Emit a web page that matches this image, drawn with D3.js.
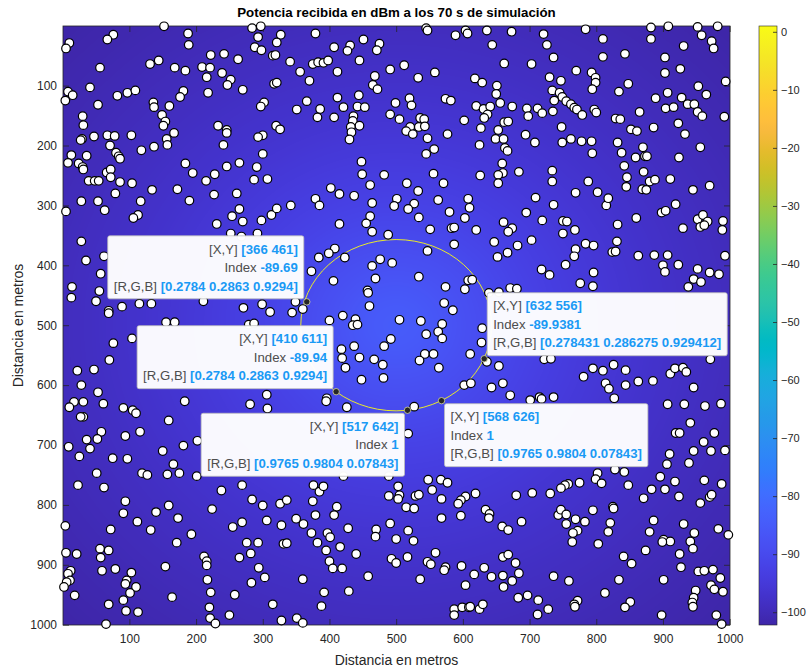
<!DOCTYPE html>
<html>
<head>
<meta charset="utf-8">
<script src="https://cdn.jsdelivr.net/npm/d3@7"></script>
<style>
  html, body { margin: 0; padding: 0; background: #ffffff; }
  svg { display: block; font-family: "Liberation Sans", Arial, Helvetica, sans-serif; }
</style>
</head>
<body>
<svg id="chart" width="807" height="670"></svg>
<script>
// ---- Data -------------------------------------------------------------
const xTicks = [100, 200, 300, 400, 500, 600, 700, 800, 900, 1000];
const yTicks = [100, 200, 300, 400, 500, 600, 700, 800, 900, 1000];
const colorbarTicks = [0, -10, -20, -30, -40, -50, -60, -70, -80, -90, -100];

// Transmitter at the centre of the 1000 x 1000 m area and its coverage ring
const transmitter = [500, 500];
const coverageRadius = 143;
// Received power (dBm) = refPower - 20*log10(sqrt(r^2 + antennaHeight^2))
const refPowerDbm = -45.13;
const antennaHeight = 97.7;
const colorLimits = [-102.2, 1];

// Users, upper band (y < 330 m)
const usersTop = [
  [152,1],[10,29],[5,38],[76,15],[67,23],[188,13],[189,32],[56,70],[131,64],[144,58],[168,70],[184,75],
  [209,69],[221,70],[222,49],[242,47],[263,56],[284,4],[297,1],[293,19],[288,36],[298,41],[327,15],[321,28],
  [315,50],[319,49],[216,86],[239,79],[252,90],[247,99],[270,107],[218,112],[181,109],[176,119],[8,110],[15,116],
  [4,125],[41,103],[82,117],[97,112],[109,108],[53,132],[136,128],[137,136],[160,134],[30,151],[31,166],[149,149],
  [154,160],[151,167],[167,179],[156,189],[157,199],[317,97],[321,95],[302,128],[297,135],[233,167],[246,174],[246,179],
  [320,167],[326,173],[300,183],[293,186],[241,199],[29,189],[27,191],[47,185],[67,183],[78,184],[103,183],[71,200],
  [137,202],[118,208],[13,216],[8,229],[36,217],[24,230],[30,236],[31,240],[80,212],[84,218],[86,222],[184,230],
  [195,246],[228,248],[215,259],[246,235],[265,229],[291,236],[300,214],[287,257],[307,256],[66,245],[72,240],[72,253],
  [39,259],[48,259],[54,259],[86,261],[104,263],[79,280],[134,274],[172,273],[190,292],[227,282],[261,280],[28,293],
  [53,293],[63,308],[117,293],[5,310],[113,316],[106,321],[265,306],[254,318],[270,327],[231,331],[298,325],[313,316],
  [321,305],
  [379,13],[407,36],[431,33],[427,42],[451,23],[475,30],[471,41],[545,4],[547,8],[589,16],[604,8],[607,13],
  [636,8],[644,32],[662,63],[341,60],[356,77],[370,92],[375,64],[383,61],[391,62],[398,58],[412,77],[445,58],
  [468,84],[465,99],[472,106],[491,73],[512,66],[533,87],[558,78],[618,88],[629,95],[651,100],[650,114],[656,129],
  [366,126],[351,140],[386,139],[382,153],[412,120],[421,136],[407,153],[444,116],[442,135],[453,136],[436,151],[435,159],
  [445,167],[432,169],[433,178],[430,190],[499,129],[520,121],[523,133],[491,148],[505,156],[536,154],[542,156],[521,169],
  [534,169],[543,168],[515,176],[525,181],[574,122],[582,125],[547,188],[577,181],[602,158],[620,134],[631,139],[641,135],
  [637,148],[632,154],[627,171],[653,174],[662,161],[649,189],[661,189],[625,199],[663,204],[667,209],[557,206],[545,214],
  [448,227],[449,248],[482,249],[461,266],[402,271],[415,281],[437,284],[379,289],[385,300],[342,300],[464,296],[461,318],
  [455,330],[415,331],[516,263],[533,276],[556,247],[571,263],[501,289],[497,301],[527,297],[518,306],[534,320],[563,291],
  [580,311],[608,289],[610,304],[603,321],[626,250],[659,230],[660,246],[653,249],[653,263],[661,328],
  [673,10],[721,14],[726,32],[784,6],[810,22],[882,3],[882,22],[908,1],[952,2],[958,16],[982,1],[973,26],
  [976,38],[931,34],[903,53],[926,72],[903,79],[994,93],[843,47],[810,52],[736,53],[703,64],[770,75],[793,78],
  [730,86],[747,92],[799,87],[799,95],[794,106],[848,97],[834,110],[734,108],[745,112],[749,119],[737,125],[755,126],
  [762,131],[767,137],[771,140],[779,149],[797,140],[800,145],[674,135],[696,138],[698,151],[712,138],[719,146],[735,143],
  [668,160],[829,155],[836,156],[865,144],[889,121],[907,112],[904,138],[916,136],[928,120],[937,131],[947,131],[953,101],
  [965,115],[952,144],[959,151],[992,152],[923,163],[933,181],[886,170],[852,173],[861,176],[748,169],[694,182],[708,195],
  [749,195],[762,189],[778,193],[793,193],[794,213],[832,195],[838,212],[859,220],[870,203],[873,218],[876,218],[842,234],
  [871,244],[846,253],[845,269],[869,273],[875,274],[880,260],[888,257],[911,256],[924,220],[956,203],[945,274],[970,267],
  [919,298],[898,312],[904,309],[860,321],[815,300],[818,288],[802,278],[788,260],[769,279],[734,242],[734,260],[684,244],
  [709,287],[736,299],[695,312],[719,325],[750,326],[756,327],[952,323],[960,316],[967,327],[990,326]
];

// Users, middle band (330 m to 665 m)
const usersMiddle = [
  [252,347],[268,352],[292,347],[28,360],[35,392],[62,385],[57,414],[14,436],[13,454],[55,443],[50,460],[69,476],
  [69,480],[89,469],[115,464],[133,464],[211,460],[271,471],[299,465],[311,478],[155,495],[168,495],[279,499],[287,497],
  [104,522],[76,530],[70,558],[47,574],[22,576],[28,600],[53,612],[183,627],[306,616],[281,632],[307,639],[17,628],
  [10,637],[31,628],[61,631],[91,638],[105,642],[110,647],[31,653],[27,653],[159,659],
  [464,344],[488,349],[551,340],[583,338],[587,337],[620,341],[587,365],[547,376],[647,361],[652,386],[408,372],[399,380],
  [384,387],[423,387],[373,410],[476,390],[464,401],[494,396],[469,422],[406,426],[534,419],[574,436],[608,425],[614,424],
  [603,440],[457,442],[458,446],[460,468],[572,463],[585,475],[639,446],[654,445],[349,461],[360,473],[344,479],[400,492],
  [420,484],[439,490],[435,500],[442,499],[505,491],[537,493],[569,498],[563,511],[569,522],[545,515],[492,523],[482,535],
  [629,505],[628,529],[418,540],[437,535],[419,555],[445,554],[424,571],[467,557],[480,566],[543,548],[556,548],[535,559],
  [564,571],[611,548],[636,561],[654,568],[643,604],[660,597],[448,591],[481,588],[602,600],[612,597],[396,622],[395,627],
  [426,637],[527,636],
  [674,338],[668,344],[768,341],[750,347],[832,332],[930,338],[956,336],[962,333],[989,341],[703,358],[682,367],[667,379],
  [769,373],[767,385],[784,364],[796,367],[831,360],[824,378],[829,377],[863,384],[887,383],[907,383],[923,399],[900,400],
  [903,411],[993,384],[952,406],[970,412],[984,415],[946,423],[957,428],[938,436],[754,399],[718,407],[730,416],[796,412],
  [776,430],[795,435],[671,438],[681,439],[722,557],[732,556],[971,557],[795,572],[810,576],[781,586],[826,566],[844,575],
  [814,597],[819,606],[844,600],[863,594],[885,593],[911,581],[918,572],[930,571],[935,578],[946,604],[827,622],[907,632],
  [932,632],[963,635],[987,631],[941,663],[671,617],[701,625],[715,620],[718,623],[736,620]
];

// Users, lower band (y > 665 m)
const usersBottom = [
  [58,678],[52,690],[36,691],[94,685],[116,678],[9,703],[41,706],[25,719],[75,722],[97,723],[150,710],[181,701],
  [202,693],[166,732],[119,747],[127,750],[157,749],[175,747],[201,752],[51,747],[23,767],[62,771],[238,776],[269,767],
  [284,791],[300,801],[326,798],[336,792],[94,794],[91,814],[159,801],[140,812],[112,828],[173,822],[132,842],[72,841],
  [4,835],[224,807],[193,849],[171,863],[255,837],[269,829],[306,826],[328,834],[276,863],[293,863],[282,881],[265,888],
  [331,865],[5,880],[21,882],[56,873],[69,876],[57,888],[212,886],[216,894],[216,901],[154,903],[59,910],[79,907],
  [103,913],[12,910],[8,915],[11,926],[6,929],[2,937],[96,926],[94,932],[110,937],[101,947],[217,925],[18,951],
  [91,959],[164,954],[222,946],[258,950],[294,905],[303,921],[283,930],[69,966],[95,977],[113,979],[220,971],[221,989],
  [229,998],[250,984],[65,999],[315,966],[328,993],
  [518,681],[421,752],[489,752],[376,767],[385,778],[391,769],[503,769],[505,784],[503,790],[489,785],[548,758],[554,775],
  [567,758],[577,763],[529,785],[534,783],[568,790],[619,781],[604,786],[597,792],[593,798],[375,794],[411,803],[407,817],
  [379,817],[350,823],[361,832],[515,804],[527,806],[568,822],[597,818],[634,808],[640,815],[639,822],[491,831],[470,841],
  [469,853],[428,839],[397,847],[401,854],[373,847],[382,863],[336,864],[416,870],[395,876],[518,843],[526,860],[500,857],
  [440,882],[400,894],[405,906],[419,906],[493,890],[500,897],[517,887],[559,880],[547,895],[552,899],[574,904],[572,909],
  [598,902],[617,916],[632,905],[643,920],[659,836],[660,887],[660,918],[661,937],[604,934],[536,924],[458,919],[360,924],
  [429,944],[392,946],[388,969],[587,974],[587,984],[599,971],[609,971],[611,970],[625,974],[630,966],[351,989],[360,997],
  [919,680],[925,680],[977,680],[961,695],[946,710],[972,710],[993,709],[910,715],[906,732],[939,730],[828,741],[842,745],
  [802,747],[799,757],[808,764],[848,767],[896,753],[883,774],[903,774],[918,761],[962,759],[988,765],[871,789],[924,786],
  [956,797],[970,787],[973,783],[775,763],[758,765],[753,767],[747,772],[731,781],[704,780],[680,784],[825,803],[826,806],
  [795,809],[743,817],[747,808],[755,816],[769,824],[783,828],[755,832],[772,843],[765,847],[764,862],[688,828],[668,842],
  [821,830],[818,845],[803,865],[886,826],[880,845],[901,858],[911,861],[899,862],[931,832],[947,847],[941,861],[945,873],
  [925,882],[874,876],[983,840],[998,850],[841,886],[853,898],[927,904],[953,911],[962,910],[975,908],[986,922],[972,934],
  [977,941],[990,945],[901,925],[834,925],[813,947],[759,927],[736,919],[668,883],[679,897],[684,914],[674,927],[697,951],
  [683,955],[713,959],[728,974],[712,983],[772,960],[767,966],[768,970],[851,962],[843,971],[898,984],[949,943],[946,955],
  [944,963],[945,970],[980,984],[988,999]
];

// Data tips
const tipX = [366, 410, 632, 517, 568];
const tipY = [461, 611, 556, 642, 626];
const tipIndex = ["-89.69", "-89.94", "-89.9381", "1", "1"];
const tipRGB = ["0.2784 0.2863 0.9294", "0.2784 0.2863 0.9294", "0.278431 0.286275 0.929412",
                "0.9765 0.9804 0.07843", "0.9765 0.9804 0.07843"];
const tipSide = ["nw", "nw", "ne", "sw", "se"];

// parula(64)
const parula = [
  [0.2422,0.1504,0.6603],[0.2504,0.1650,0.7076],[0.2578,0.1818,0.7511],[0.2647,0.1978,0.7952],
  [0.2706,0.2147,0.8364],[0.2751,0.2342,0.8710],[0.2783,0.2559,0.8991],[0.2803,0.2782,0.9221],
  [0.2813,0.3006,0.9414],[0.2810,0.3228,0.9579],[0.2795,0.3447,0.9717],[0.2760,0.3667,0.9829],
  [0.2699,0.3892,0.9906],[0.2602,0.4123,0.9952],[0.2440,0.4358,0.9988],[0.2206,0.4603,0.9973],
  [0.1963,0.4847,0.9892],[0.1834,0.5074,0.9798],[0.1786,0.5289,0.9682],[0.1764,0.5499,0.9520],
  [0.1687,0.5703,0.9359],[0.1540,0.5902,0.9218],[0.1460,0.6091,0.9079],[0.1380,0.6276,0.8973],
  [0.1248,0.6459,0.8883],[0.1113,0.6635,0.8763],[0.0952,0.6798,0.8598],[0.0689,0.6948,0.8394],
  [0.0297,0.7082,0.8163],[0.0036,0.7203,0.7917],[0.0067,0.7312,0.7660],[0.0433,0.7411,0.7394],
  [0.0964,0.7500,0.7120],[0.1408,0.7584,0.6842],[0.1717,0.7670,0.6554],[0.1938,0.7758,0.6251],
  [0.2161,0.7843,0.5923],[0.2470,0.7918,0.5567],[0.2906,0.7973,0.5188],[0.3406,0.8008,0.4789],
  [0.3909,0.8029,0.4354],[0.4456,0.8024,0.3909],[0.5044,0.7993,0.3480],[0.5616,0.7942,0.3045],
  [0.6174,0.7876,0.2612],[0.6720,0.7793,0.2227],[0.7242,0.7698,0.1910],[0.7738,0.7598,0.1646],
  [0.8203,0.7498,0.1535],[0.8634,0.7406,0.1596],[0.9035,0.7330,0.1774],[0.9393,0.7288,0.2100],
  [0.9728,0.7298,0.2394],[0.9956,0.7434,0.2371],[0.9970,0.7659,0.2199],[0.9952,0.7893,0.2028],
  [0.9892,0.8136,0.1885],[0.9786,0.8386,0.1766],[0.9676,0.8639,0.1643],[0.9610,0.8890,0.1537],
  [0.9597,0.9135,0.1423],[0.9628,0.9373,0.1265],[0.9691,0.9606,0.1064],[0.9769,0.9839,0.0805]
];

// ---- Layout -------------------------------------------------------------
const plot = { left: 63, right: 730, top: 26, bottom: 625 };
const cbar = { left: 759, right: 777 };
const svg = d3.select("#chart");

const x = d3.scaleLinear().domain([0.5, 1000.5]).range([plot.left, plot.right]);
const y = d3.scaleLinear().domain([0.5, 1000.5]).range([plot.top, plot.bottom]);
const cy = d3.scaleLinear().domain(colorLimits).range([plot.bottom, plot.top]);

const parulaHex = parula.map(c => d3.rgb(c[0] * 255, c[1] * 255, c[2] * 255).formatHex());
const color = d3.scaleLinear()
  .domain(parula.map((_, i) => colorLimits[0] + i / (parula.length - 1) * (colorLimits[1] - colorLimits[0])))
  .range(parulaHex)
  .clamp(true);

function powerAt(px, py) {
  const r = Math.hypot(px - transmitter[0], py - transmitter[1]);
  return refPowerDbm - 20 * Math.log10(Math.hypot(r, antennaHeight));
}

// ---- Received power field -------------------------------------------------
const fw = plot.right - plot.left, fh = plot.bottom - plot.top;
const canvas = document.createElement("canvas");
canvas.width = fw; canvas.height = fh;
const ctx = canvas.getContext("2d");
const img = ctx.createImageData(fw, fh);
const lut = d3.range(1024).map(i => d3.rgb(color(colorLimits[0] + i / 1023 * (colorLimits[1] - colorLimits[0]))));
for (let j = 0; j < fh; j++) {
  const py = y.invert(plot.top + j + 0.5);
  for (let i = 0; i < fw; i++) {
    const px = x.invert(plot.left + i + 0.5);
    const v = powerAt(px, py);
    let t = (v - colorLimits[0]) / (colorLimits[1] - colorLimits[0]);
    t = Math.max(0, Math.min(1, t));
    const c = lut[Math.round(t * 1023)];
    const k = (j * fw + i) * 4;
    img.data[k] = c.r; img.data[k + 1] = c.g; img.data[k + 2] = c.b; img.data[k + 3] = 255;
  }
}
ctx.putImageData(img, 0, 0);
svg.append("image")
  .attr("x", plot.left).attr("y", plot.top)
  .attr("width", fw).attr("height", fh)
  .attr("preserveAspectRatio", "none")
  .attr("href", canvas.toDataURL());

// Coverage ring
svg.append("ellipse")
  .attr("cx", x(transmitter[0])).attr("cy", y(transmitter[1]))
  .attr("rx", x(transmitter[0] + coverageRadius) - x(transmitter[0]))
  .attr("ry", y(transmitter[1] + coverageRadius) - y(transmitter[1]))
  .attr("fill", "none")
  .attr("stroke", color(colorLimits[1]))
  .attr("stroke-opacity", 0.9)
  .attr("stroke-width", 1);

// ---- Axes ------------------------------------------------------------------
const axisColor = "#262626";
const tickLen = 6;
const fmt = d3.format("d");
const axes = svg.append("g");
axes.append("rect")
  .attr("x", plot.left).attr("y", plot.top)
  .attr("width", fw).attr("height", fh)
  .attr("fill", "none").attr("stroke", axisColor).attr("stroke-width", 0.8);

function styleAxis(g, size) {
  g.select(".domain").remove();
  g.selectAll(".tick line").attr("stroke", axisColor).attr("stroke-width", 0.8);
  g.selectAll(".tick text").attr("fill", axisColor).attr("font-size", size || 12)
    .attr("font-family", "Liberation Sans, Arial, sans-serif");
}
axes.append("g").attr("transform", `translate(0,${plot.bottom})`)
  .call(d3.axisBottom(x).tickValues(xTicks).tickFormat(fmt).tickSizeInner(-tickLen).tickSizeOuter(0).tickPadding(9))
  .call(styleAxis);
axes.append("g").attr("transform", `translate(0,${plot.top})`)
  .call(d3.axisTop(x).tickValues(xTicks).tickSizeInner(-tickLen).tickSizeOuter(0).tickFormat(""))
  .call(styleAxis);
axes.append("g").attr("transform", `translate(${plot.left},0)`)
  .call(d3.axisLeft(y).tickValues(yTicks).tickFormat(fmt).tickSizeInner(-tickLen).tickSizeOuter(0).tickPadding(6))
  .call(styleAxis);
axes.append("g").attr("transform", `translate(${plot.right},0)`)
  .call(d3.axisRight(y).tickValues(yTicks).tickSizeInner(-tickLen).tickSizeOuter(0).tickFormat(""))
  .call(styleAxis);

// ---- Users ----------------------------------------------------------------
const users = usersTop.concat(usersMiddle, usersBottom);
svg.append("g").selectAll("circle")
  .data(users)
  .join("circle")
  .attr("cx", d => x(d[0]))
  .attr("cy", d => y(d[1]))
  .attr("r", 4.3)
  .attr("fill", "#ffffff")
  .attr("stroke", "#000000")
  .attr("stroke-width", 1.2);

// ---- Titles ----------------------------------------------------------------
svg.append("text")
  .attr("x", (plot.left + plot.right) / 2).attr("y", 17)
  .attr("text-anchor", "middle").attr("font-size", 13.3).attr("font-weight", "bold")
  .attr("fill", "#000").text("Potencia recibida en dBm a los 70 s de simulación");
svg.append("text")
  .attr("x", (plot.left + plot.right) / 2).attr("y", 665)
  .attr("text-anchor", "middle").attr("font-size", 14).attr("fill", axisColor)
  .text("Distancia en metros");
svg.append("text")
  .attr("transform", `translate(23,${(plot.top + plot.bottom) / 2}) rotate(-90)`)
  .attr("text-anchor", "middle").attr("font-size", 14).attr("fill", axisColor)
  .text("Distancia en metros");

// ---- Colorbar --------------------------------------------------------------
const grad = svg.append("defs").append("linearGradient")
  .attr("id", "parulaGrad").attr("x1", 0).attr("y1", 1).attr("x2", 0).attr("y2", 0);
grad.selectAll("stop").data(parulaHex).join("stop")
  .attr("offset", (_, i) => i / (parulaHex.length - 1))
  .attr("stop-color", d => d);
svg.append("rect")
  .attr("x", cbar.left).attr("y", plot.top)
  .attr("width", cbar.right - cbar.left).attr("height", fh)
  .attr("fill", "url(#parulaGrad)")
  .attr("stroke", axisColor).attr("stroke-width", 0.6);
svg.append("g").attr("transform", `translate(${cbar.right},0)`)
  .call(d3.axisRight(cy).tickValues(colorbarTicks).tickFormat(fmt).tickSizeInner(-4).tickSizeOuter(0).tickPadding(4))
  .call(g => styleAxis(g, 11));

// ---- Data tips -------------------------------------------------------------
const tipFont = 13.2, lineGap = 18.5, padX = 6, boxH = 63, gap = 3;
const labelColor = "#4d4d4d", valueColor = "#1a9af5";
const tipsG = svg.append("g");
tipX.forEach((tx, i) => {
  const mx = x(tx), my = y(tipY[i]);
  tipsG.append("circle").attr("cx", mx).attr("cy", my).attr("r", 3.2)
    .attr("fill", "#262626").attr("stroke", "#d9d9a0").attr("stroke-width", 0.8);
});
tipX.forEach((tx, i) => {
  const mx = x(tx), my = y(tipY[i]);
  const side = tipSide[i];
  const lines = [
    ["[X,Y]", `[${tx} ${tipY[i]}]`],
    ["Index", tipIndex[i]],
    ["[R,G,B]", `[${tipRGB[i]}]`]
  ];
  const g = tipsG.append("g");
  const box = g.append("rect").attr("rx", 2).attr("ry", 2)
    .attr("fill", "#ffffff").attr("fill-opacity", 0.97)
    .attr("stroke", "#bdbdbd").attr("stroke-width", 0.8);
  const texts = lines.map((ln, k) => {
    const t = g.append("text").attr("font-size", tipFont).attr("y", 17.7 + k * lineGap);
    t.append("tspan").attr("fill", labelColor).text(ln[0] + " ");
    t.append("tspan").attr("fill", valueColor).attr("font-weight", "bold").text(ln[1]);
    return t;
  });
  const w = d3.max(texts, t => t.node().getComputedTextLength()) + 2 * padX;
  const left = side.endsWith("w") ? mx - gap - w : mx + gap;
  const top = side.startsWith("n") ? my - gap - boxH : my + gap;
  box.attr("x", 0).attr("y", 0).attr("width", w).attr("height", boxH);
  texts.forEach(t => {
    if (side.endsWith("w")) t.attr("x", w - padX).attr("text-anchor", "end");
    else t.attr("x", padX).attr("text-anchor", "start");
  });
  g.attr("transform", `translate(${left},${top})`);
});
</script>
</body>
</html>
